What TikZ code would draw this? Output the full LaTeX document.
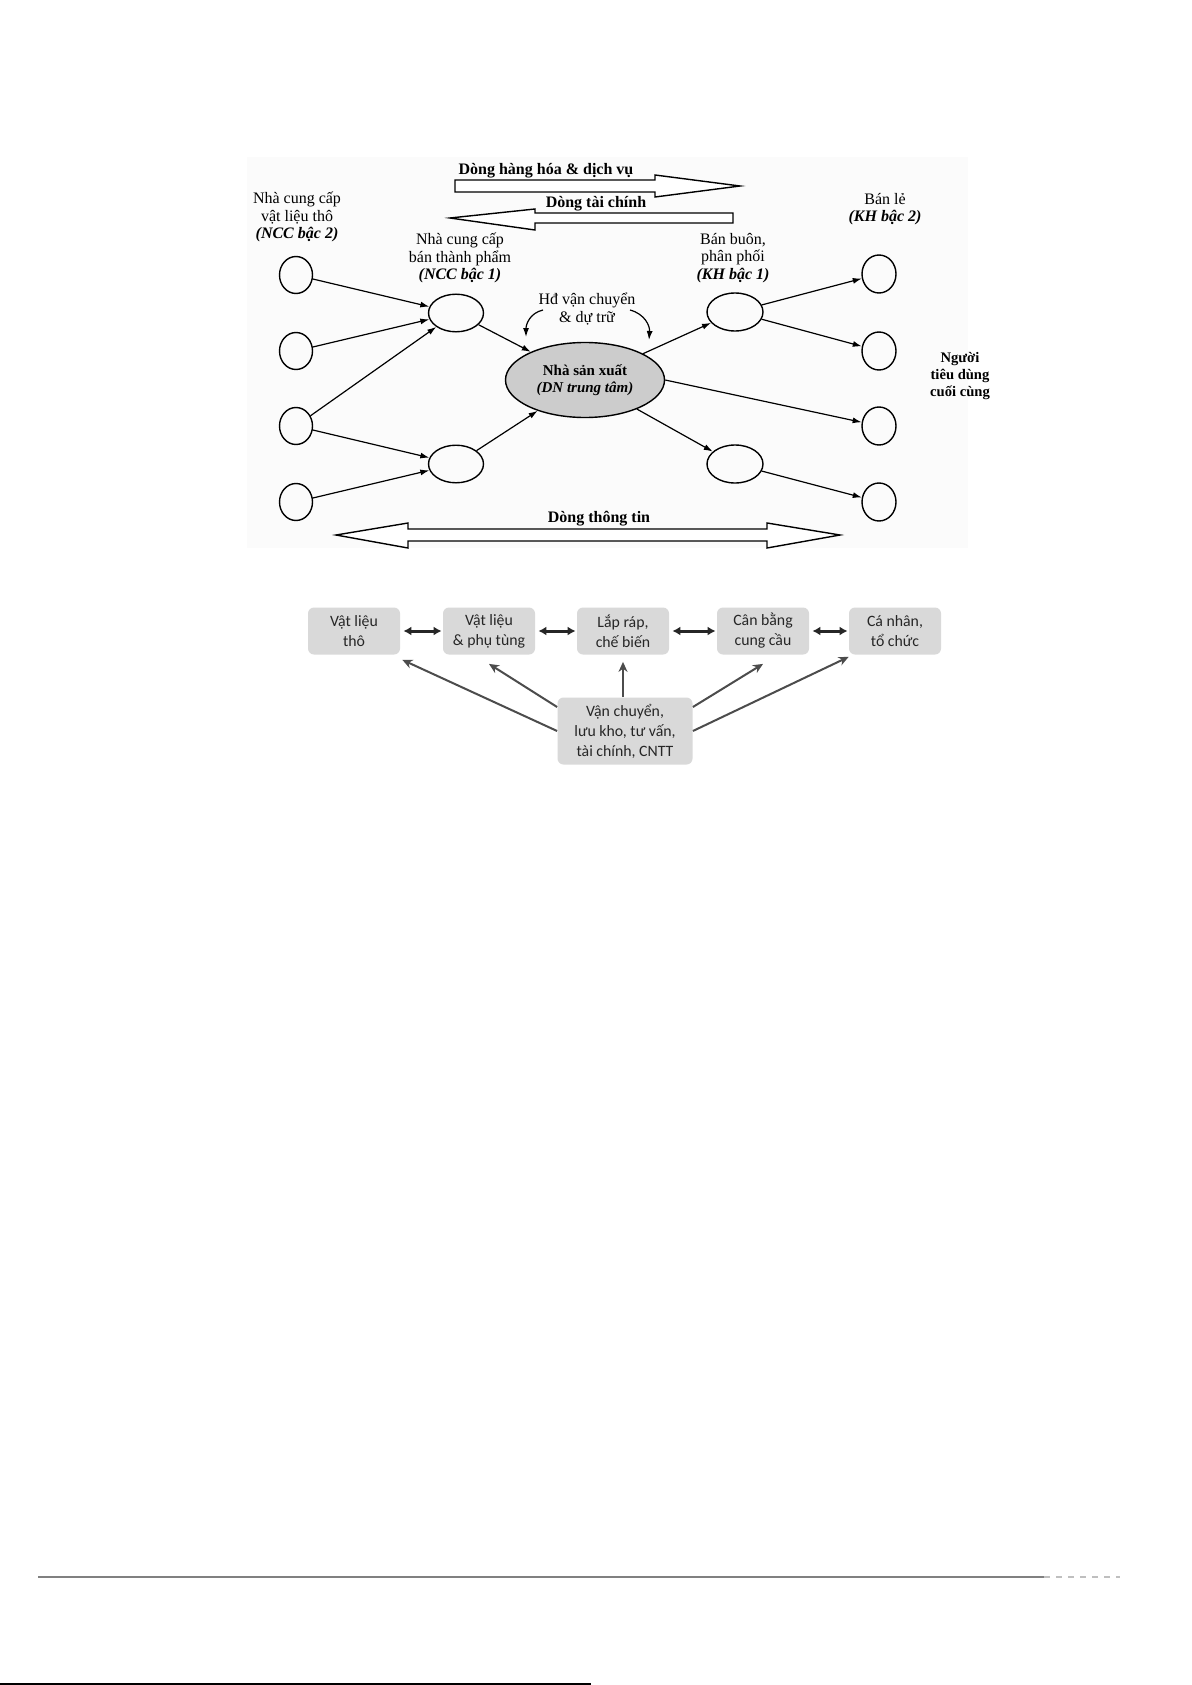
\documentclass[tikz,border=0pt]{standalone}
\usepackage{fontspec}
\setmainfont{Liberation Serif}
\newfontfamily\carlito{Carlito}
\usetikzlibrary{shapes.geometric,arrows.meta,calc}
\begin{document}
\begin{tikzpicture}[x=0.5pt,y=-0.5pt,
  lbl/.style={align=center,font=\fontsize{8}{8.8}\selectfont,inner sep=0},
  circ/.style={ellipse,draw,line width=0.7pt,minimum width=16.5pt,minimum height=18.5pt,inner sep=0},
  oval/.style={ellipse,draw,line width=0.7pt,minimum width=27.5pt,minimum height=18.8pt,inner sep=0},
  con/.style={line width=0.6pt,-{Latex[length=4.5pt,width=3pt]}},
  bigarrow/.style={draw,line width=0.7pt,fill=white},
  flowlbl/.style={font=\bfseries\fontsize{8}{9}\selectfont,inner sep=0},
  box/.style={rounded corners=3pt,fill=black!15,text=black!85,align=center,font=\carlito\fontsize{7.9}{10}\selectfont,minimum width=46pt,minimum height=23.5pt,inner sep=0},
  dbl/.style={line width=1.5pt,black!85,{Latex[length=4pt,width=4.5pt]}-{Latex[length=4pt,width=4.5pt]},shorten <=1.5pt,shorten >=0.5pt},
  feed/.style={line width=1pt,black!70,-{Stealth[length=5pt,width=4.5pt]}}
]
\useasboundingbox (0,0) rectangle (1191,1685);
\fill[white] (0,0) rectangle (1191,1685);
\fill[black!1.5] (247,157) rectangle (968,548);

% big flow arrows
\draw[bigarrow] (455,180) -- (655,180) -- (655,175) -- (740,186) -- (655,197) -- (655,192) -- (455,192) -- cycle;
\draw[bigarrow] (733,213) -- (535,213) -- (535,209) -- (450,218) -- (535,230) -- (535,223) -- (733,223) -- cycle;
\draw[bigarrow] (408,529) -- (767,529) -- (767,523) -- (840,535) -- (767,548) -- (767,541) -- (408,541) -- (408,548) -- (336,535) -- (408,523) -- cycle;
\node[flowlbl] (fg) at (546,171) {Dòng hàng hóa \& dịch vụ};
\node[flowlbl] (ff) at (596,204) {Dòng tài chính};
\node[flowlbl] (fi) at (599,519) {Dòng thông tin};

% labels
\node[lbl] (l2) at (297,217) {Nhà cung cấp\\vật liệu thô\\\textbf{\textit{(NCC bậc 2)}}};
\node[lbl] (l1) at (460,258) {Nhà cung cấp\\bán thành phẩm\\\textbf{\textit{(NCC bậc 1)}}};
\node[lbl] (k1) at (733,258) {Bán buôn,\\phân phối\\\textbf{\textit{(KH bậc 1)}}};
\node[lbl] (k2) at (885,209) {Bán lẻ\\\textbf{\textit{(KH bậc 2)}}};
\node[lbl,font=\bfseries\fontsize{7.3}{8.4}\selectfont] (nt) at (960,376) {Người\\tiêu\ dùng\\cuối cùng};
\node[lbl] (hd) at (587,309) {Hđ vận chuyển\\\& dự trữ};

% nodes
\node[circ] (c1) at (296,275) {};
\node[circ] (c2) at (296,351) {};
\node[circ] (c3) at (296,426) {};
\node[circ] (c4) at (296,502) {};
\node[oval] (n1) at (456,313) {};
\node[oval] (n2) at (456,464) {};
\node[ellipse,draw,line width=0.7pt,fill=black!20,minimum width=79.5pt,minimum height=37.5pt,inner sep=0,align=center,font=\bfseries\fontsize{7.5}{8.2}\selectfont] (dn) at (585,380) {Nhà sản xuất\\\textit{(DN trung tâm)}};
\node[oval,minimum width=28pt,minimum height=19pt] (m1) at (735,312) {};
\node[oval,minimum width=28pt,minimum height=19pt] (m2) at (735,464) {};
\node[circ,minimum width=17pt,minimum height=19pt] (r1) at (879,274) {};
\node[circ,minimum width=17pt,minimum height=19pt] (r2) at (879,351) {};
\node[circ,minimum width=17pt,minimum height=19pt] (r3) at (879,426) {};
\node[circ,minimum width=17pt,minimum height=19pt] (r4) at (879,502) {};

% connectors
\draw[con] (c1) -- (n1);
\draw[con] (c2) -- (n1);
\draw[con] (c3) -- (n1);
\draw[con] (c3) -- (n2);
\draw[con] (c4) -- (n2);
\draw[con] (n1) -- (dn);
\draw[con] (n2) -- (dn);
\draw[con] (dn) -- (m1);
\draw[con] (dn.east) -- (r3);
\draw[con] (dn) -- (m2);
\draw[con] (m1) -- (r1);
\draw[con] (m1) -- (r2);
\draw[con] (m2) -- (r4);

% curved arrows
\coordinate (ha) at (543,310);
\coordinate (hb) at (526,337);
\coordinate (hc) at (630,310);
\coordinate (hdd) at (649,340);
\draw[con] (ha) .. controls (530,313) and (526,324) .. (hb);
\draw[con] (hc) .. controls (645,314) and (650,326) .. (hdd);

% bottom diagram
\node[box] (b1) at (354,631) {Vật liệu\\thô};
\node[box] (b2) at (489,631) {Vật liệu\\\& phụ tùng};
\node[box] (b3) at (623,631) {Lắp ráp,\\chế biến};
\node[box] (b4) at (763,631) {Cân bằng\\cung cầu};
\node[box] (b5) at (895,631) {Cá nhân,\\tổ chức};
\node[box,minimum width=67.5pt,minimum height=33.5pt] (b6) at (625,731) {Vận chuyển,\\lưu kho, tư vấn,\\tài chính, CNTT};

\draw[dbl] (b1.east) -- (b2.west);
\draw[dbl] (b2.east) -- (b3.west);
\draw[dbl] (b3.east) -- (b4.west);
\draw[dbl] (b4.east) -- (b5.west);

\draw[feed] (b6.west) -- ([xshift=1pt,yshift=-2.5pt]b1.south east);
\draw[feed] ([yshift=12pt]b6.west) -- ([yshift=-4.5pt]b2.south);
\draw[feed] (b6.north -| b3.south) -- ([yshift=-3.5pt]b3.south);
\draw[feed] ([yshift=12pt]b6.east) -- ([yshift=-4.5pt]b4.south);
\draw[feed] (b6.east) -- ([yshift=-1pt]b5.south west);

% footer lines
\draw[black!50,line width=0.75pt] (38,1577) -- (1044,1577);
\draw[black!25,dashed,line width=0.6pt] (1044,1577) -- (1120,1577);
\draw[black,line width=0.8pt] (0,1684.2) -- (591,1684.2);
\end{tikzpicture}
\end{document}
